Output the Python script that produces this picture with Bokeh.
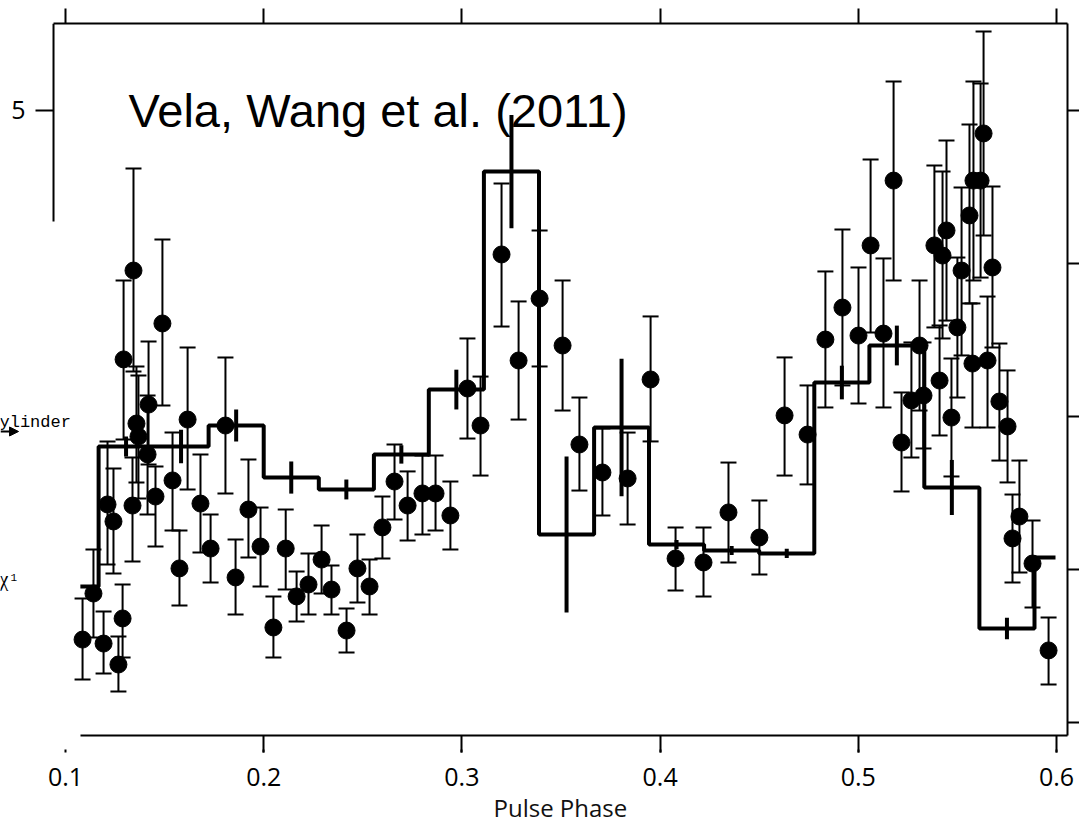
from bokeh.plotting import figure
from bokeh.models import (ColumnDataSource, Range1d, LinearAxis, FixedTicker, Whisker,
                          TeeHead, Label, Arrow, NormalHead, Title)
from bokeh.core.properties import value
from bokeh.embed import file_html
from bokeh.resources import INLINE

# ---- observed pulse profile (points with error bars) ----
phase = [0.1086, 0.1141, 0.1192, 0.1212, 0.1242, 0.1267, 0.1288, 0.1293, 0.1343, 0.1358,
         0.1368, 0.1338, 0.1414, 0.1419, 0.1454, 0.1489, 0.1540, 0.1575, 0.1616, 0.1681,
         0.1732, 0.1807, 0.1858, 0.1923, 0.1984, 0.2049, 0.2111, 0.2166, 0.2226, 0.2292,
         0.2342, 0.2418, 0.2473, 0.2534, 0.2599, 0.2660, 0.2726, 0.2801, 0.2867, 0.2942,
         0.3028, 0.3094, 0.3200, 0.3286, 0.3392, 0.3508, 0.3593, 0.3709, 0.3836, 0.3952,
         0.4078, 0.4219, 0.4345, 0.4501, 0.4628, 0.4744, 0.4834, 0.4920, 0.5001, 0.5062,
         0.5127, 0.5178, 0.5218, 0.5268, 0.5309, 0.5329, 0.5384, 0.5410, 0.5425, 0.5445,
         0.5470, 0.5500, 0.5521, 0.5561, 0.5576, 0.5581, 0.5617, 0.5632, 0.5652, 0.5677,
         0.5712, 0.5753, 0.5778, 0.5813, 0.5879, 0.5960]
rate = [1.542, 1.843, 1.516, 2.425, 2.314, 1.379, 1.680, 3.373, 3.954, 2.954,
        2.869, 2.418, 2.752, 3.078, 2.477, 3.608, 2.582, 2.007, 2.980, 2.431,
        2.137, 2.941, 1.948, 2.392, 2.150, 1.621, 2.137, 1.824, 1.902, 2.065,
        1.869, 1.601, 2.007, 1.889, 2.275, 2.575, 2.418, 2.497, 2.497, 2.353,
        3.183, 2.941, 4.059, 3.366, 3.771, 3.464, 2.817, 2.634, 2.595, 3.242,
        2.072, 2.046, 2.373, 2.209, 3.007, 2.882, 3.503, 3.712, 3.529, 4.118,
        3.542, 4.542, 2.830, 3.105, 3.464, 3.137, 4.118, 3.235, 4.052, 4.216,
        2.993, 3.582, 3.954, 4.314, 3.346, 4.542, 4.542, 4.850, 3.366, 3.974,
        3.098, 2.935, 2.203, 2.346, 2.039, 1.471]
rate_hi = [1.810, 2.131, 1.725, 2.837, 2.660, 1.562, 1.902, 3.889, 4.621, 3.327,
           3.268, 2.732, 3.137, 3.490, 2.673, 4.157, 2.895, 2.255, 3.451, 2.752,
           2.359, 3.386, 2.196, 2.719, 2.405, 1.824, 2.392, 1.987, 2.105, 2.288,
           2.026, 1.745, 2.229, 2.065, 2.477, 2.817, 2.641, 2.745, 2.745, 2.575,
           3.510, 3.261, 4.523, 3.752, 4.216, 3.889, 3.124, 2.922, 2.895, 3.654,
           2.275, 2.275, 2.699, 2.451, 3.386, 3.203, 3.948, 4.222, 3.974, 4.680,
           4.033, 5.190, 3.157, 3.484, 3.889, 3.484, 4.641, 3.595, 4.601, 4.804,
           3.379, 4.039, 4.497, 4.908, 3.739, 5.190, 5.176, 5.516, 3.784, 4.503,
           3.477, 3.301, 2.490, 2.712, 2.320, 1.686]
rate_lo = [1.281, 1.556, 1.320, 2.033, 1.974, 1.203, 1.425, 2.850, 3.294, 2.569,
           2.464, 2.052, 2.359, 2.686, 2.150, 3.072, 2.255, 1.765, 2.523, 2.111,
           1.915, 2.497, 1.706, 2.078, 1.889, 1.425, 1.869, 1.660, 1.706, 1.843,
           1.706, 1.458, 1.784, 1.706, 2.072, 2.327, 2.190, 2.229, 2.255, 2.131,
           2.856, 2.614, 3.588, 2.980, 3.327, 3.039, 2.516, 2.353, 2.294, 2.837,
           1.863, 1.824, 2.046, 1.967, 2.614, 2.556, 3.059, 3.203, 3.085, 3.549,
           3.059, 3.889, 2.510, 2.732, 3.039, 2.791, 3.582, 2.876, 3.510, 3.627,
           2.608, 3.124, 3.399, 3.739, 2.928, 3.889, 3.908, 4.183, 2.928, 3.451,
           2.712, 2.569, 1.915, 1.980, 1.752, 1.248]

# ---- model light curve (histogram) ----
model_edges = [0.1075, 0.1167, 0.1444, 0.1722, 0.2000, 0.2278, 0.2556, 0.2833, 0.3111, 0.3389,
               0.3667, 0.3944, 0.4222, 0.4500, 0.4778, 0.5056, 0.5333, 0.5611, 0.5889, 0.5995]
model_level = [1.889, 2.804, 2.804, 2.941, 2.601, 2.523, 2.752, 3.176, 4.601, 2.229,
               2.928, 2.163, 2.124, 2.105, 3.222, 3.464, 2.536, 1.614, 2.078]
model_err = [0.0, 0.065, 0.11, 0.105, 0.105, 0.065, 0.06, 0.13, 0.37, 0.51,
             0.45, 0.03, 0.03, 0.03, 0.11, 0.13, 0.18, 0.07, 0.0]

x_ticks = [0.1, 0.2, 0.3, 0.4, 0.5, 0.6]
y_ticks = [1, 2, 3, 4, 5]
y_labels = ["5"]
x_title = "Pulse Phase"

X_LEFT, X_RIGHT = 0.0672, 0.60555
Y_BOT, Y_TOP = 0.9150, 5.5686
FRAME_X = 0.09395      # where the outer box starts
SPINE_Y0 = 4.2745      # lower end of the short left spine

p = figure(width=1079, height=825, output_backend="svg", toolbar_location=None,
           x_range=Range1d(X_LEFT, X_RIGHT), y_range=Range1d(Y_BOT, Y_TOP),
           x_axis_location=None, y_axis_location=None,
           min_border_left=0, min_border_right=12, min_border_top=23, min_border_bottom=90)
p.outline_line_color = None
p.grid.visible = False
p.background_fill_color = "white"
p.border_fill_color = "white"


def style(ax, tick_out):
    ax.axis_line_width = 2
    ax.axis_line_color = "black"
    ax.major_tick_line_width = 2
    ax.major_tick_line_color = "black"
    ax.minor_tick_line_width = 2
    ax.minor_tick_line_color = "black"
    ax.minor_tick_out = tick_out
    ax.minor_tick_in = 0
    ax.major_label_text_color = "black"
    return ax


# box axes: ticks only (minor ticks carry no labels)
top = style(LinearAxis(ticker=FixedTicker(ticks=[], minor_ticks=x_ticks),
                       bounds=(FRAME_X, X_RIGHT)), 15)
p.add_layout(top, "above")

right = style(LinearAxis(ticker=FixedTicker(ticks=[], minor_ticks=y_ticks)), 12)
p.add_layout(right, "right")

bottom1 = style(LinearAxis(ticker=FixedTicker(ticks=[], minor_ticks=x_ticks[1:]),
                           bounds=(0.10757, X_RIGHT)), 17)
p.add_layout(bottom1, "below")

bottom2 = style(LinearAxis(ticker=FixedTicker(ticks=x_ticks), bounds=(FRAME_X, X_RIGHT),
                           major_tick_in=3, major_tick_out=0,
                           major_label_text_font="Open Sans", major_label_text_font_size="25px",
                           major_label_standoff=15), 0)
bottom2.axis_line_color = None
p.add_layout(bottom2, "below")

# axis title, centred under the outer box
p.add_layout(Title(text=x_title, align="left", offset=493, standoff=0,
                   text_font="Open Sans", text_font_size="24px", text_font_style="normal",
                   text_color="#111111"), "below")

# short left spine with its single tick and label
p.segment(x0=[FRAME_X], y0=[SPINE_Y0], x1=[FRAME_X], y1=[Y_TOP], line_width=2, line_color="black")
p.segment(x0=[0.08486], y0=[float(y_labels[0])], x1=[FRAME_X], y1=[float(y_labels[0])],
          line_width=2, line_color="black")
p.text(x=[0.07982], y=[float(y_labels[0])], text=y_labels, text_font=value("Open Sans"),
       text_font_size="25px", text_align="right", text_baseline="middle", text_color="black")

# model histogram
p.step(x=model_edges, y=model_level + [model_level[-1]], mode="after",
       line_width=4, line_color="black")

mx, mlo, mhi = [], [], []
for i, e in enumerate(model_err):
    if e > 0:
        c = 0.5 * (model_edges[i] + model_edges[i + 1])
        mx.append(c)
        mlo.append(model_level[i] - e)
        mhi.append(model_level[i] + e)
p.segment(x0=mx, y0=mlo, x1=mx, y1=mhi, line_width=4, line_color="black")

# data points
src = ColumnDataSource(dict(x=phase, y=rate, hi=rate_hi, lo=rate_lo))
p.add_layout(Whisker(source=src, base="x", upper="hi", lower="lo",
                     line_width=2, line_color="black",
                     upper_head=TeeHead(size=16, line_width=2, line_color="black"),
                     lower_head=TeeHead(size=16, line_width=2, line_color="black")))
p.scatter(x="x", y="y", source=src, size=17, fill_color="black", line_color="black")

# annotation texts
p.add_layout(Label(x=0.1318, y=5.0, text="Vela, Wang et al. (2011)",
                   text_font="Liberation Sans", text_font_size="47px",
                   text_baseline="alphabetic", text_align="left", text_color="black"))
p.add_layout(Label(x=0.0667, y=2.961, text="ylinder", text_font="Liberation Mono",
                   text_font_size="17px", text_baseline="alphabetic", text_align="left",
                   text_color="black"))
p.add_layout(Arrow(x_start=0.0672, y_start=2.902, x_end=0.0763, y_end=2.902,
                   line_width=2, line_color="black",
                   end=NormalHead(size=9, fill_color="black", line_color="black")))
p.add_layout(Label(x=0.0667, y=1.935, text="χ", text_font="Liberation Serif",
                   text_font_size="20px", text_baseline="alphabetic", text_align="left",
                   text_color="black"))
p.add_layout(Label(x=0.07225, y=1.948, text="1", text_font="Liberation Mono",
                   text_font_size="11px", text_baseline="alphabetic", text_align="left",
                   text_color="black"))

open("out.html", "w").write(file_html(p, INLINE))
